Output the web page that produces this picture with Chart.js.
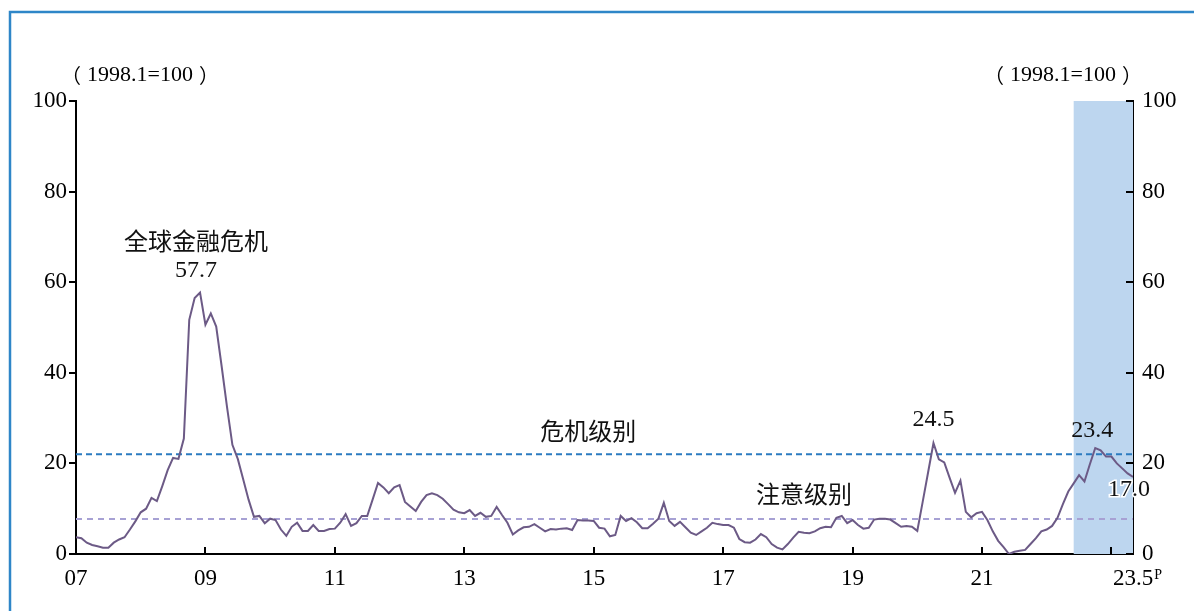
<!DOCTYPE html>
<html>
<head>
<meta charset="utf-8">
<script src="https://cdn.jsdelivr.net/npm/chart.js@4.4.0/dist/chart.umd.min.js"></script>
<style>
  html, body { margin: 0; padding: 0; background: #fff; }
  #wrap { position: relative; width: 1194px; height: 611px; }
</style>
</head>
<body>
<div id="wrap"><canvas id="c" width="1194" height="611"></canvas></div>
<script>
// monthly index, 2007.01 .. 2023.05 (index 0 .. 196)
const values = [
  // 2007
  3.7, 3.5, 2.5, 2.0, 1.7, 1.4, 1.4, 2.5, 3.2, 3.7, 5.4, 7.2,
  // 2008
  9.2, 10.0, 12.4, 11.7, 15.0, 18.5, 21.2, 21.0, 25.5, 51.7, 56.5, 57.7,
  // 2009
  50.6, 53.1, 50.2, 41.5, 32.5, 24.1, 21.0, 16.5, 12.0, 8.2, 8.4, 6.8,
  // 2010
  7.8, 7.5, 5.4, 4.0, 6.0, 6.9, 5.1, 5.1, 6.4, 5.1, 5.1, 5.5,
  // 2011
  5.6, 6.9, 8.8, 6.2, 6.8, 8.4, 8.4, 12.0, 15.7, 14.7, 13.4, 14.7,
  // 2012
  15.2, 11.5, 10.5, 9.5, 11.5, 13.0, 13.4, 13.0, 12.2, 11.0, 9.8, 9.2,
  // 2013
  9.0, 9.7, 8.4, 9.1, 8.2, 8.4, 10.4, 8.6, 6.9, 4.3, 5.2, 5.9,
  // 2014
  6.0, 6.6, 5.8, 5.0, 5.5, 5.4, 5.6, 5.7, 5.3, 7.5, 7.4, 7.4,
  // 2015
  7.3, 5.8, 5.6, 3.9, 4.2, 8.4, 7.3, 7.9, 7.0, 5.7, 5.7, 6.7,
  // 2016
  7.8, 11.3, 7.3, 6.2, 7.1, 5.9, 4.7, 4.2, 5.0, 5.8, 6.9, 6.6,
  // 2017
  6.4, 6.4, 5.8, 3.3, 2.6, 2.5, 3.2, 4.4, 3.7, 2.2, 1.4, 1.0,
  // 2018
  2.2, 3.6, 4.9, 4.7, 4.6, 5.0, 5.7, 6.0, 5.9, 8.0, 8.4, 6.8,
  // 2019
  7.5, 6.4, 5.6, 5.8, 7.6, 7.8, 7.8, 7.6, 6.8, 6.0, 6.2, 6.0,
  // 2020
  5.1, 11.5, 18.0, 24.5, 20.9, 20.2, 16.8, 13.5, 16.2, 9.3, 8.1, 9.0,
  // 2021
  9.3, 7.5, 5.0, 2.9, 1.5, 0.0, 0.5, 0.7, 0.9, 2.2, 3.5, 5.0,
  // 2022
  5.4, 6.2, 8.0, 11.0, 13.8, 15.6, 17.4, 16.0, 19.8, 23.4, 22.9, 21.5,
  // 2023
  21.5, 20.0, 18.9, 17.8, 17.0
];

const xTickPos = [0, 24, 48, 72, 96, 120, 144, 168, 196];
const xTickLabels = ['07', '09', '11', '13', '15', '17', '19', '21', '23.5'];
const xMarkPos = [24, 48, 72, 96, 120, 144, 168, 192];
const yTicks = [0, 20, 40, 60, 80, 100];

const crisisLevel = 22.0;
const cautionLevel = 7.7;
const shadeStart = 185;   // 2022.06
const shadeEnd = 196;

const notes = [
  { text: '全球金融危机', idx: 23, val: 57.7, dx: -4, dy: -52 },
  { text: '57.7', idx: 23, val: 57.7, dx: -4, dy: -22 },
  { text: '24.5', idx: 159, val: 24.5, dx: 0, dy: -23 },
  { text: '23.4', idx: 189, val: 23.4, dx: -3, dy: -17 },
  { text: '17.0', idx: 196, val: 17.0, dx: -4, dy: 13, halo: true },
  { text: '危机级别', idx: 95, val: crisisLevel, dx: 0, dy: -23 },
  { text: '注意级别', idx: 135, val: cautionLevel, dx: 0, dy: -25 }
];

const SERIF = '"Liberation Serif", "DejaVu Serif", serif';
const CJK = '"Noto Sans CJK SC", "Liberation Serif", sans-serif';
const TICK_FONT = { family: SERIF, size: 23 };

function unitLabel(ctx, cx, cy) {
  // （ 1998.1=100 ）
  ctx.font = '22px ' + SERIF;
  const mid = '1998.1=100';
  const mw = ctx.measureText(mid).width;
  ctx.textAlign = 'center';
  ctx.textBaseline = 'middle';
  ctx.fillText(mid, cx, cy);
  ctx.font = '20px ' + CJK;
  ctx.textAlign = 'right';
  ctx.fillText('（', cx - mw / 2 - 6, cy);
  ctx.textAlign = 'left';
  ctx.fillText('）', cx + mw / 2 + 6, cy);
}

const extras = {
  id: 'extras',
  beforeDraw(chart) {
    const ctx = chart.ctx;
    ctx.save();
    ctx.fillStyle = '#fff';
    ctx.fillRect(0, 0, chart.width, chart.height);
    // blue frame
    ctx.strokeStyle = '#2E86C8';
    ctx.lineWidth = 2.5;
    ctx.beginPath();
    ctx.moveTo(10, 611);
    ctx.lineTo(10, 12);
    ctx.lineTo(1194, 12);
    ctx.stroke();
    ctx.restore();
  },
  beforeDatasetsDraw(chart) {
    const { ctx, scales: { x, y } } = chart;
    ctx.save();
    ctx.fillStyle = '#BDD6EF';
    const x0 = x.getPixelForValue(shadeStart), x1 = x.getPixelForValue(shadeEnd);
    const yt = y.getPixelForValue(100), yb = y.getPixelForValue(0);
    ctx.fillRect(x0, yt, x1 - x0, yb - yt);
    ctx.restore();
  },
  afterDraw(chart) {
    const { ctx, scales: { x, y } } = chart;
    const yb = y.getPixelForValue(0);
    ctx.save();
    ctx.strokeStyle = '#000';
    ctx.lineWidth = 2;
    // x tick marks (inward)
    xMarkPos.forEach(p => {
      const px = Math.round(x.getPixelForValue(p));
      ctx.beginPath(); ctx.moveTo(px, yb); ctx.lineTo(px, yb - 7); ctx.stroke();
    });
    // y tick marks
    yTicks.forEach(v => {
      const py = Math.round(y.getPixelForValue(v));
      ctx.beginPath(); ctx.moveTo(x.left, py); ctx.lineTo(x.left - 7, py); ctx.stroke();
      ctx.beginPath(); ctx.moveTo(x.right, py); ctx.lineTo(x.right - 7, py); ctx.stroke();
    });
    // superscript P after 23.5
    ctx.font = '23px ' + SERIF;
    const w = ctx.measureText('23.5').width;
    ctx.font = '14px ' + SERIF;
    ctx.fillStyle = '#000';
    ctx.textBaseline = 'alphabetic';
    ctx.textAlign = 'left';
    ctx.fillText('P', x.getPixelForValue(196) + w / 2 + 1, 579);
    // units
    unitLabel(ctx, 140, 75);
    unitLabel(ctx, 1063, 75);
    // annotations
    ctx.textAlign = 'center';
    ctx.textBaseline = 'middle';
    notes.forEach(n => {
      const px = x.getPixelForValue(n.idx) + n.dx;
      const py = y.getPixelForValue(n.val) + n.dy;
      ctx.font = /[0-9]/.test(n.text) ? '24px ' + SERIF : '24px ' + CJK;
      if (n.halo) {
        ctx.strokeStyle = '#fff';
        ctx.lineWidth = 3;
        ctx.strokeText(n.text, px, py);
      }
      ctx.fillStyle = '#111';
      ctx.fillText(n.text, px, py);
    });
    ctx.restore();
  }
};

const flat = v => [{ x: 0, y: v }, { x: 196, y: v }];

new Chart(document.getElementById('c'), {
  type: 'line',
  data: {
    datasets: [
      {
        data: values.map((v, i) => ({ x: i, y: v })),
        borderColor: '#6C5A86',
        borderWidth: 2,
        pointRadius: 0,
        tension: 0
      },
      {
        data: flat(crisisLevel),
        borderColor: '#2B7BC0',
        borderWidth: 2,
        borderDash: [6, 4],
        pointRadius: 0
      },
      {
        data: flat(cautionLevel),
        borderColor: '#A7A1D4',
        borderWidth: 2,
        borderDash: [6, 5],
        pointRadius: 0
      }
    ]
  },
  options: {
    responsive: false,
    animation: false,
    layout: { padding: { top: 101, left: 0, right: 0, bottom: 0 } },
    plugins: { legend: { display: false }, tooltip: { enabled: false } },
    scales: {
      x: {
        type: 'linear',
        min: 0,
        max: 196,
        grid: { display: false, drawTicks: false },
        border: { display: true, color: '#000', width: 2 },
        afterBuildTicks: s => { s.ticks = xTickPos.map(v => ({ value: v })); },
        afterFit: s => { s.height = 57; },
        ticks: {
          autoSkip: false,
          maxRotation: 0,
          padding: 11,
          color: '#000',
          font: TICK_FONT,
          callback: v => xTickLabels[xTickPos.indexOf(v)]
        }
      },
      y: {
        position: 'left',
        min: 0,
        max: 100,
        grid: { display: false, drawTicks: false },
        border: { display: true, color: '#000', width: 2 },
        afterFit: s => { s.width = 76; },
        ticks: { stepSize: 20, padding: 9, color: '#000', font: TICK_FONT }
      },
      y2: {
        position: 'right',
        min: 0,
        max: 100,
        grid: { display: false, drawTicks: false },
        border: { display: true, color: '#000', width: 2 },
        afterFit: s => { s.width = 61; },
        ticks: { stepSize: 20, padding: 9, color: '#000', font: TICK_FONT }
      }
    }
  },
  plugins: [extras]
});
</script>
</body>
</html>
